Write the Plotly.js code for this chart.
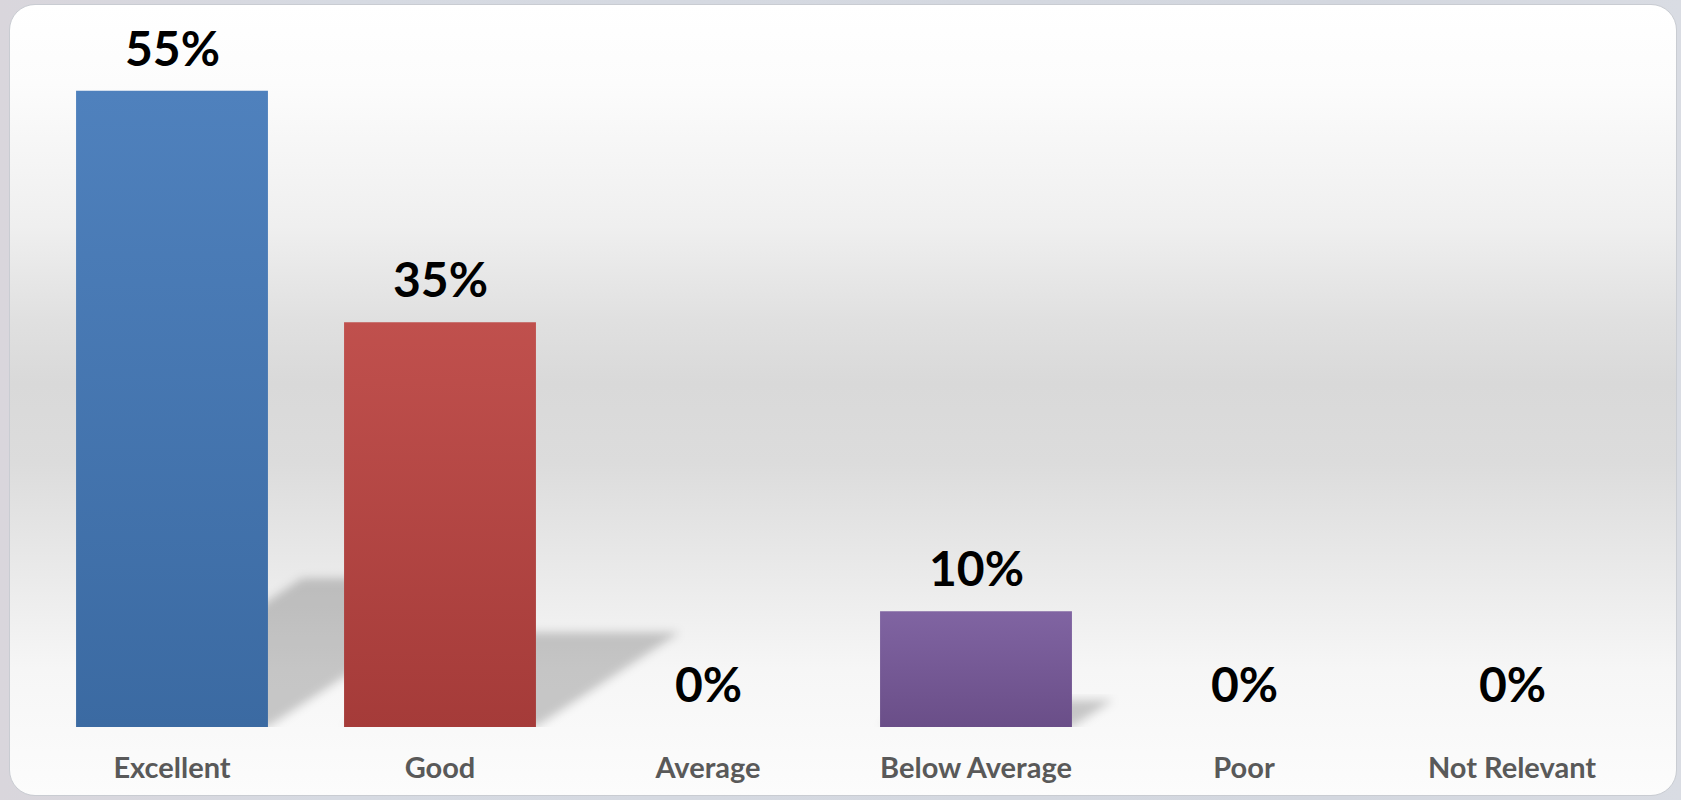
<!DOCTYPE html>
<html>
<head>
<meta charset="utf-8">
<script src="https://cdn.plot.ly/plotly-3.0.1.min.js"></script>
<style>
  html, body { margin:0; padding:0; width:1681px; height:800px; overflow:hidden;
    background: linear-gradient(90deg, #d9d6dc 0%, #d6dae2 20%, #d3d7df 80%, #d9dce3 100%); }
  #panel { position:absolute; left:9px; top:4px; width:1668px; height:792px;
    border-radius:26px; border:1px solid #c9ccd2; box-sizing:border-box;
    background: linear-gradient(180deg, #ffffff 0%, #fcfcfc 10%, #efefef 28%, #e0e0e0 40%, #d9d9d9 48%, #dcdcdc 58%, #e8e8e8 70%, #f6f6f6 84%, #fcfcfc 100%); }
  #chart { position:absolute; left:0; top:0; width:1681px; height:800px; }
</style>
</head>
<body>
<div id="panel"></div>
<div id="chart"></div>
<script>
const categories = ["Excellent", "Good", "Average", "Below Average", "Poor", "Not Relevant"];
const values = [55, 35, 0, 10, 0, 0];
const labels = ["55%", "35%", "0%", "10%", "0%", "0%"];
const topColors = ["#4f81bd", "#c0504d", "#9bbb59", "#8064a2", "#4bacc6", "#f79646"];
const bottomColors = ["#3b6aa2", "#a53b39", "#7f9a48", "#6a4e88", "#3a8fa6", "#d77b33"];

const bargap = 0.284;
const half = (1 - bargap) / 2;

// floor shadows cast by each bar (derived from the values)
const shapes = values.map((v, i) => {
  if (v <= 0) return null;
  const h = 0.234 * v;
  const dx = 0.01534 * v;
  const path = `M ${i - half} 0 L ${i + half} 0 L ${i + half + dx} ${h} L ${i - half + dx} ${h} Z`;
  return { type: 'path', path: path, xref: 'x', yref: 'y', layer: 'below',
           fillcolor: 'rgba(0,0,0,0.2)', line: { width: 0 } };
}).filter(Boolean);

const annotations = values.map((v, i) => ({
  x: categories[i], y: v, xref: 'x', yref: 'y', text: labels[i],
  showarrow: false, yanchor: 'bottom', yshift: 13,
  font: { family: 'Lato, "Open Sans", sans-serif', size: 48, color: '#000000', weight: 700 }
}));

const trace = {
  type: 'bar', x: categories, y: values,
  marker: { color: topColors, line: { width: 0 } },
  hoverinfo: 'none'
};

const layout = {
  width: 1681, height: 800,
  margin: { l: 38, r: 35, t: 33, b: 73 },
  paper_bgcolor: 'rgba(0,0,0,0)', plot_bgcolor: 'rgba(0,0,0,0)',
  bargap: bargap,
  showlegend: false,
  xaxis: { type: 'category', range: [-0.5, 5.5], showgrid: false, zeroline: false,
           showline: false, ticks: '', ticklabelstandoff: 21,
           tickfont: { family: 'Lato, "Open Sans", sans-serif', size: 29, color: '#595959', weight: 700 } },
  yaxis: { range: [0, 60], visible: false, showgrid: false, zeroline: false },
  shapes: shapes,
  annotations: annotations
};

Plotly.newPlot('chart', [trace], layout, { staticPlot: true }).then(gd => {
  const svg = gd.querySelector('svg.main-svg');
  const ns = 'http://www.w3.org/2000/svg';
  let defs = svg.querySelector('defs');
  if (!defs) { defs = document.createElementNS(ns, 'defs'); svg.insertBefore(defs, svg.firstChild); }
  // blur filter for shadows
  const filt = document.createElementNS(ns, 'filter');
  filt.setAttribute('id', 'shadowBlur');
  filt.setAttribute('x', '-20%'); filt.setAttribute('y', '-20%');
  filt.setAttribute('width', '140%'); filt.setAttribute('height', '140%');
  const blur = document.createElementNS(ns, 'feGaussianBlur');
  blur.setAttribute('stdDeviation', '5');
  filt.appendChild(blur);
  defs.appendChild(filt);
  gd.querySelectorAll('.shapelayer path').forEach(p => p.setAttribute('filter', 'url(#shadowBlur)'));
  // bar gradients
  gd.querySelectorAll('.trace.bars .point path').forEach((p, i) => {
    const g = document.createElementNS(ns, 'linearGradient');
    g.setAttribute('id', 'barGrad' + i);
    g.setAttribute('x1', '0'); g.setAttribute('y1', '0');
    g.setAttribute('x2', '0'); g.setAttribute('y2', '1');
    const s1 = document.createElementNS(ns, 'stop');
    s1.setAttribute('offset', '0'); s1.setAttribute('stop-color', topColors[i]);
    const s2 = document.createElementNS(ns, 'stop');
    s2.setAttribute('offset', '1'); s2.setAttribute('stop-color', bottomColors[i]);
    g.appendChild(s1); g.appendChild(s2);
    defs.appendChild(g);
    p.style.fill = 'url(#barGrad' + i + ')';
  });
});
</script>
</body>
</html>
